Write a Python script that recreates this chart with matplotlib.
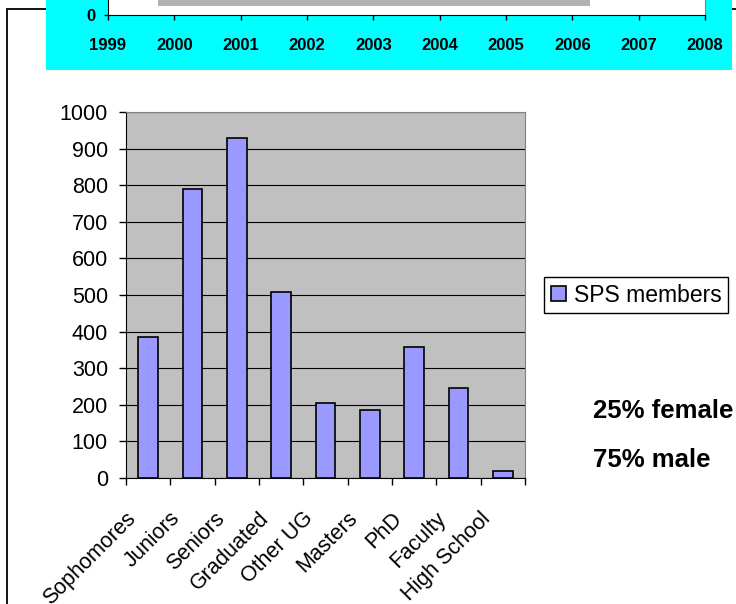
import matplotlib
matplotlib.use("Agg")
import matplotlib.pyplot as plt
import matplotlib.patches as patches
import matplotlib.transforms as mtransforms
import numpy as np

plt.rcParams['font.family'] = ['Liberation Sans', 'DejaVu Sans']

# --- data ---
categories = ['Sophomores', 'Juniors', 'Seniors', 'Graduated', 'Other UG',
              'Masters', 'PhD', 'Faculty', 'High School']
members = [385, 790, 929, 509, 206, 186, 357, 245, 18]
series_name = 'SPS members'
notes = ['25% female', '75% male']

# partly visible chart above (cut off by the page)
years = [1999, 2000, 2001, 2002, 2003, 2004, 2005, 2006, 2007, 2008]
top_bar_start = 1999.75
top_bar_end = 2006.27
top_bar_bottom = 9

W, H = 736, 604


def fx(px):
    return px / W


def fy(py):
    return 1 - py / H


fig = plt.figure(figsize=(W / 100, H / 100), dpi=100, facecolor='white')

# outer border of the lower chart area
border = patches.Rectangle((fx(7), -0.5), 1.5, fy(9) + 0.5, transform=fig.transFigure,
                           fill=False, edgecolor='black', linewidth=1.3, zorder=-2)
fig.add_artist(border)

# cyan panel of the upper chart
cyan = patches.Rectangle((fx(46), fy(70)), fx(732) - fx(46), 0.5, transform=fig.transFigure,
                         facecolor='#00FFFF', edgecolor='none', zorder=-1)
fig.add_artist(cyan)

# --- upper (cut-off) chart ---
ax_top = fig.add_axes([fx(108), fy(15), fx(705) - fx(108), 100 / H])
ax_top.set_facecolor('white')
ax_top.barh(top_bar_bottom, top_bar_end - top_bar_start, left=top_bar_start,
            height=300, align='edge', color='#B2B2B2')
ax_top.set_xlim(years[0], years[-1])
ax_top.set_ylim(0, 100)
ax_top.set_xticks(years)
ax_top.set_xticklabels([str(y) for y in years], fontsize=12, fontweight='bold')
ax_top.set_yticks([0])
ax_top.set_yticklabels(['0'], fontsize=12, fontweight='bold')
ax_top.tick_params(axis='x', length=3.6, width=1, pad=13)
ax_top.tick_params(axis='y', length=2.9, width=1, pad=6)
ax_top.spines['top'].set_visible(False)
ax_top.spines['right'].set_color('#808080')
for s in ['left', 'bottom']:
    ax_top.spines[s].set_color('black')

# --- main bar chart ---
ax = fig.add_axes([fx(126), fy(478), fx(525) - fx(126), (478 - 112) / H])
ax.set_facecolor('#C0C0C0')
x = np.arange(len(categories))
ax.bar(x, members, width=0.45, color='#9999FF', edgecolor='black',
       linewidth=1.2, zorder=3, label=series_name)
ax.set_xlim(-0.5, len(categories) - 0.5)
ax.set_ylim(0, 1000)
ax.set_yticks(np.arange(0, 1001, 100))
ax.tick_params(axis='y', labelsize=15.5, length=5, width=1, pad=8)
ax.yaxis.grid(True, color='black', linewidth=0.8, zorder=1)
ax.set_axisbelow(True)

ax.set_xticks(x)
ax.set_xticklabels(categories, rotation=45, ha='right', va='top', fontsize=15.5)
ax.tick_params(axis='x', which='major', length=0, pad=21.6)
ax.set_xticks(np.arange(-0.5, len(categories), 1), minor=True)
ax.tick_params(axis='x', which='minor', length=5, width=1)
offset = mtransforms.ScaledTranslation(-0.08, 0, fig.dpi_scale_trans)
for lbl in ax.get_xticklabels():
    lbl.set_transform(lbl.get_transform() + offset)

ax.spines['left'].set_color('black')
ax.spines['bottom'].set_color('black')
ax.spines['top'].set_color('#808080')
ax.spines['right'].set_color('#808080')

leg = ax.legend(loc='center left', bbox_to_anchor=(fx(544), fy(295)),
                bbox_transform=fig.transFigure, fontsize=16.5, frameon=True,
                fancybox=False, framealpha=1, edgecolor='black',
                handlelength=0.65, handleheight=0.65, handletextpad=0.35,
                borderpad=0.3, borderaxespad=0)
leg.get_frame().set_linewidth(1.0)

fig.text(fx(593), fy(418), notes[0], fontsize=18.5, fontweight='bold', va='baseline')
fig.text(fx(593), fy(467), notes[1], fontsize=18.5, fontweight='bold', va='baseline')

fig.savefig('out.png', dpi=100, facecolor='white')
